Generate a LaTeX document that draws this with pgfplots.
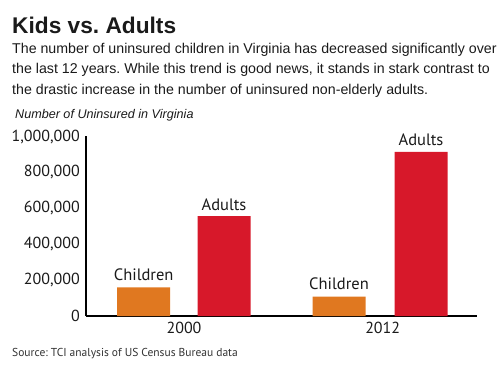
\documentclass[border=0pt]{standalone}
\usepackage{fontspec}
\setmainfont{PT Sans}
\newfontfamily\arial{Liberation Sans}
\usepackage{pgfplots}
\pgfplotsset{compat=1.18}
\definecolor{cOrange}{HTML}{E07820}
\definecolor{cRed}{HTML}{D7182A}
\definecolor{cText}{HTML}{1A1A1A}
\frenchspacing
\begin{document}
\begin{tikzpicture}[x=1bp,y=1bp]
\useasboundingbox (0,0) rectangle (500,373);
\node[anchor=base west,inner sep=0pt,text=cText] at (12,340) {\arial\bfseries\fontsize{22.7bp}{26bp}\selectfont Kids vs. Adults};
\node[anchor=base west,inner sep=0pt,text=cText] at (12,320) {\arial\fontsize{14.2bp}{17bp}\selectfont The number of uninsured children in Virginia has decreased significantly over};
\node[anchor=base west,inner sep=0pt,text=cText] at (12,299.5) {\arial\fontsize{14.2bp}{17bp}\selectfont the last 12 years. While this trend is good news, it stands in stark contrast to};
\node[anchor=base west,inner sep=0pt,text=cText] at (12,279) {\arial\fontsize{14.2bp}{17bp}\selectfont the drastic increase in the number of uninsured non-elderly adults.};
\node[anchor=base west,inner sep=0pt,text=cText] at (15,255) {\arial\itshape\fontsize{12.6bp}{15bp}\selectfont Number of Uninsured in Virginia};
\node[anchor=base west,inner sep=0pt,text=cText!90] at (12,16.3) {\fontsize{11.5bp}{13bp}\selectfont Source: TCI analysis of US Census Bureau data};
\begin{axis}[
  at={(86bp,57bp)}, anchor=south west,
  scale only axis, width=390.7bp, height=179.5bp,
  xmin=0, xmax=390.7, ymin=0, ymax=1000000,
  axis lines*=left, axis line style={-, line width=1.2bp, black},
  major tick length=0pt,
  xtick={98,296.7}, xticklabels={2000,2012},
  ytick={0,200000,400000,600000,800000,1000000},
  scaled y ticks=false,
  /pgf/number format/.cd, fixed, 1000 sep={,}, assume math mode=true,
  /pgfplots/.cd,
  ticklabel style={font=\fontsize{16bp}{19bp}\selectfont, text=cText},
  yticklabel style={anchor=east, inner sep=0pt, xshift=-6bp},
  xticklabel style={anchor=north, inner sep=0pt, yshift=-5.5bp},
  clip=false,
]
\addplot[ybar, bar width=53, bar shift=0pt, fill=cOrange, draw=none,
  nodes near coords={Children},
  every node near coord/.append style={anchor=base, inner sep=0pt, yshift=7bp, font=\fontsize{16.5bp}{19bp}\selectfont, text=cText}]
  coordinates {(57.7,160000) (253,108000)};
\addplot[ybar, bar width=53, bar shift=0pt, fill=cRed, draw=none,
  nodes near coords={Adults},
  every node near coord/.append style={anchor=base, inner sep=0pt, yshift=6bp, font=\fontsize{16.5bp}{19bp}\selectfont, text=cText}]
  coordinates {(138,556000) (335,915000)};
\end{axis}
\end{tikzpicture}
\end{document}
